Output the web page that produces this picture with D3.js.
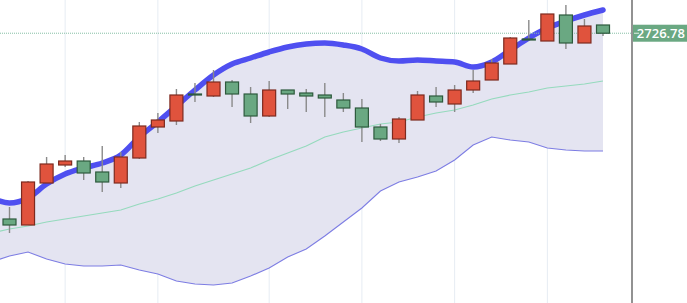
<!DOCTYPE html>
<html>
<head>
<meta charset="utf-8">
<script src="https://cdn.jsdelivr.net/npm/d3@7"></script>
<style>
  body { margin: 0; background: #fff; }
  svg { display: block; }
</style>
</head>
<body>
<div id="chart"></div>
<script>
// daily candles (index 0 .. 32)
var opens  = [2541, 2535, 2577, 2595, 2599, 2588, 2577, 2602, 2633, 2639, 2666, 2664, 2678, 2666, 2644, 2670, 2667,
              2665, 2660, 2652, 2633, 2621, 2640, 2664, 2656, 2670, 2680, 2696, 2721, 2719, 2745, 2717, 2735];
var highs  = [2553, 2579, 2603, 2605, 2603, 2614, 2608, 2638, 2647, 2671, 2677, 2690, 2680, 2673, 2679, 2670, 2671,
              2677, 2667, 2661, 2636, 2643, 2669, 2673, 2675, 2690, 2701, 2723, 2740, 2746, 2755, 2741, 2735];
var lows   = [2527, 2535, 2577, 2593, 2580, 2568, 2572, 2601, 2627, 2635, 2658, 2663, 2653, 2637, 2643, 2651, 2648,
              2643, 2648, 2618, 2619, 2617, 2640, 2653, 2648, 2667, 2680, 2696, 2720, 2719, 2711, 2717, 2724];
var closes = [2535, 2578, 2596, 2599, 2587, 2578, 2603, 2634, 2640, 2665, 2665, 2678, 2666, 2644, 2670, 2666, 2664,
              2662, 2652, 2633, 2621, 2641, 2665, 2658, 2670, 2679, 2697, 2722, 2720, 2746, 2717, 2734, 2726.78];

// bollinger bands, starting one bar before the first visible candle (index -1)
var bandStart = -1;
var upperBand  = [2562, 2557, 2562, 2576, 2586, 2592, 2597, 2605, 2623, 2638, 2654, 2670, 2685, 2696, 2702, 2708, 2713,
                  2716, 2717, 2715, 2711, 2702, 2699, 2700, 2699, 2698, 2693, 2698, 2710, 2722, 2732, 2739, 2745, 2750];
var middleBand = [2527, 2531, 2534, 2538, 2541, 2544, 2547, 2550, 2556, 2561, 2567, 2574, 2580, 2586, 2592, 2600, 2607,
                  2614, 2623, 2628, 2632, 2636, 2638, 2643, 2647, 2650, 2655, 2661, 2665, 2668, 2672, 2674, 2676, 2679];
var lowerBand  = [2498, 2504, 2508, 2501, 2496, 2494, 2494, 2495, 2490, 2486, 2479, 2476, 2475, 2477, 2484, 2492, 2503,
                  2511, 2524, 2538, 2552, 2569, 2578, 2583, 2589, 2600, 2615, 2623, 2620, 2618, 2612, 2610, 2609, 2609];

var gridIdx = [3, 8, 14, 19, 24, 29];
var lastPrice = 2726.78;

function start(){
    var width = 687, height = 303;
    var plotRight = 632;

    var svg = d3.select("#chart").append("svg")
        .attr("width", width)
        .attr("height", height);

    var x = d3.scaleLinear().domain([0, opens.length - 1]).range([9.5, 603]);
    var y = d3.scaleLinear().domain([2457, 2760]).range([height, 0]);

    svg.append("clipPath").attr("id", "plotclip")
       .append("rect").attr("x", 0).attr("y", 0).attr("width", plotRight).attr("height", height);

    var plot = svg.append("g").attr("clip-path", "url(#plotclip)");

    // vertical grid
    plot.selectAll(".grid").data(gridIdx).enter()
        .append("line")
        .attr("x1", d => x(d)).attr("x2", d => x(d))
        .attr("y1", 0).attr("y2", height)
        .style("stroke", "#e6ecf3")
        .style("stroke-width", 1);

    var bands = upperBand.map(function(u, i){
        return {i: i + bandStart, up: u, mid: middleBand[i], low: lowerBand[i]};
    });

    var area = d3.area()
        .x(d => x(d.i))
        .y0(d => y(d.low))
        .y1(d => y(d.up));
    plot.append("path").datum(bands)
        .attr("d", area)
        .style("fill", "#e4e4f1");

    plot.append("path").datum(bands)
        .attr("d", d3.line().x(d => x(d.i)).y(d => y(d.mid)))
        .style("fill", "none").style("stroke", "#95dabd").style("stroke-width", 1.2);

    plot.append("path").datum(bands)
        .attr("d", d3.line().x(d => x(d.i)).y(d => y(d.low)))
        .style("fill", "none").style("stroke", "#7d7de3").style("stroke-width", 1.1);

    plot.append("path").datum(bands)
        .attr("d", d3.line().curve(d3.curveMonotoneX).x(d => x(d.i)).y(d => y(d.up)))
        .style("fill", "none").style("stroke", "#4f4ff0").style("stroke-width", 5.5)
        .style("stroke-linecap", "round").style("stroke-linejoin", "round");

    // last price dotted line
    plot.append("line")
        .attr("x1", 0).attr("x2", plotRight)
        .attr("y1", y(lastPrice)).attr("y2", y(lastPrice))
        .style("stroke", "#86bfa6").style("stroke-width", 1)
        .style("stroke-dasharray", "1,1");

    var candles = opens.map(function(o, i){
        return {i: i, o: o, h: highs[i], l: lows[i], c: closes[i]};
    });
    var bodyW = 13;

    var g = plot.selectAll(".candle").data(candles).enter().append("g");
    g.append("line")
        .attr("x1", d => x(d.i)).attr("x2", d => x(d.i))
        .attr("y1", d => y(d.h)).attr("y2", d => y(d.l))
        .style("stroke", "#8a8a8a").style("stroke-width", 1.4);
    g.append("rect")
        .attr("x", d => x(d.i) - bodyW / 2)
        .attr("width", bodyW)
        .attr("y", d => y(Math.max(d.o, d.c)))
        .attr("height", d => Math.max(1, y(Math.min(d.o, d.c)) - y(Math.max(d.o, d.c))))
        .style("fill", d => d.c > d.o ? "#e0533d" : "#6aa882")
        .style("stroke", d => d.c > d.o ? "#7d2a1f" : "#2e5a3d")
        .style("stroke-width", 1.2);

    // right price axis
    svg.append("line")
        .attr("x1", plotRight).attr("x2", plotRight)
        .attr("y1", 0).attr("y2", height)
        .style("stroke", "#777").style("stroke-width", 1.6);

    var ly = y(lastPrice);
    svg.append("rect")
        .attr("x", plotRight + 1).attr("y", ly - 8.5)
        .attr("width", width - plotRight).attr("height", 17)
        .style("fill", "#6aa882");
    svg.append("line")
        .attr("x1", plotRight + 2).attr("x2", plotRight + 7)
        .attr("y1", ly).attr("y2", ly)
        .style("stroke", "#e4f1e9").style("stroke-width", 1);
    svg.append("text")
        .attr("x", width - 2).attr("y", ly + 4.5)
        .attr("text-anchor", "end")
        .style("font-family", "Open Sans, sans-serif")
        .style("font-size", "13px")
        .style("font-weight", 600)
        .style("fill", "#fff")
        .text(lastPrice.toFixed(2));
}

start()
</script>
</body>
</html>
